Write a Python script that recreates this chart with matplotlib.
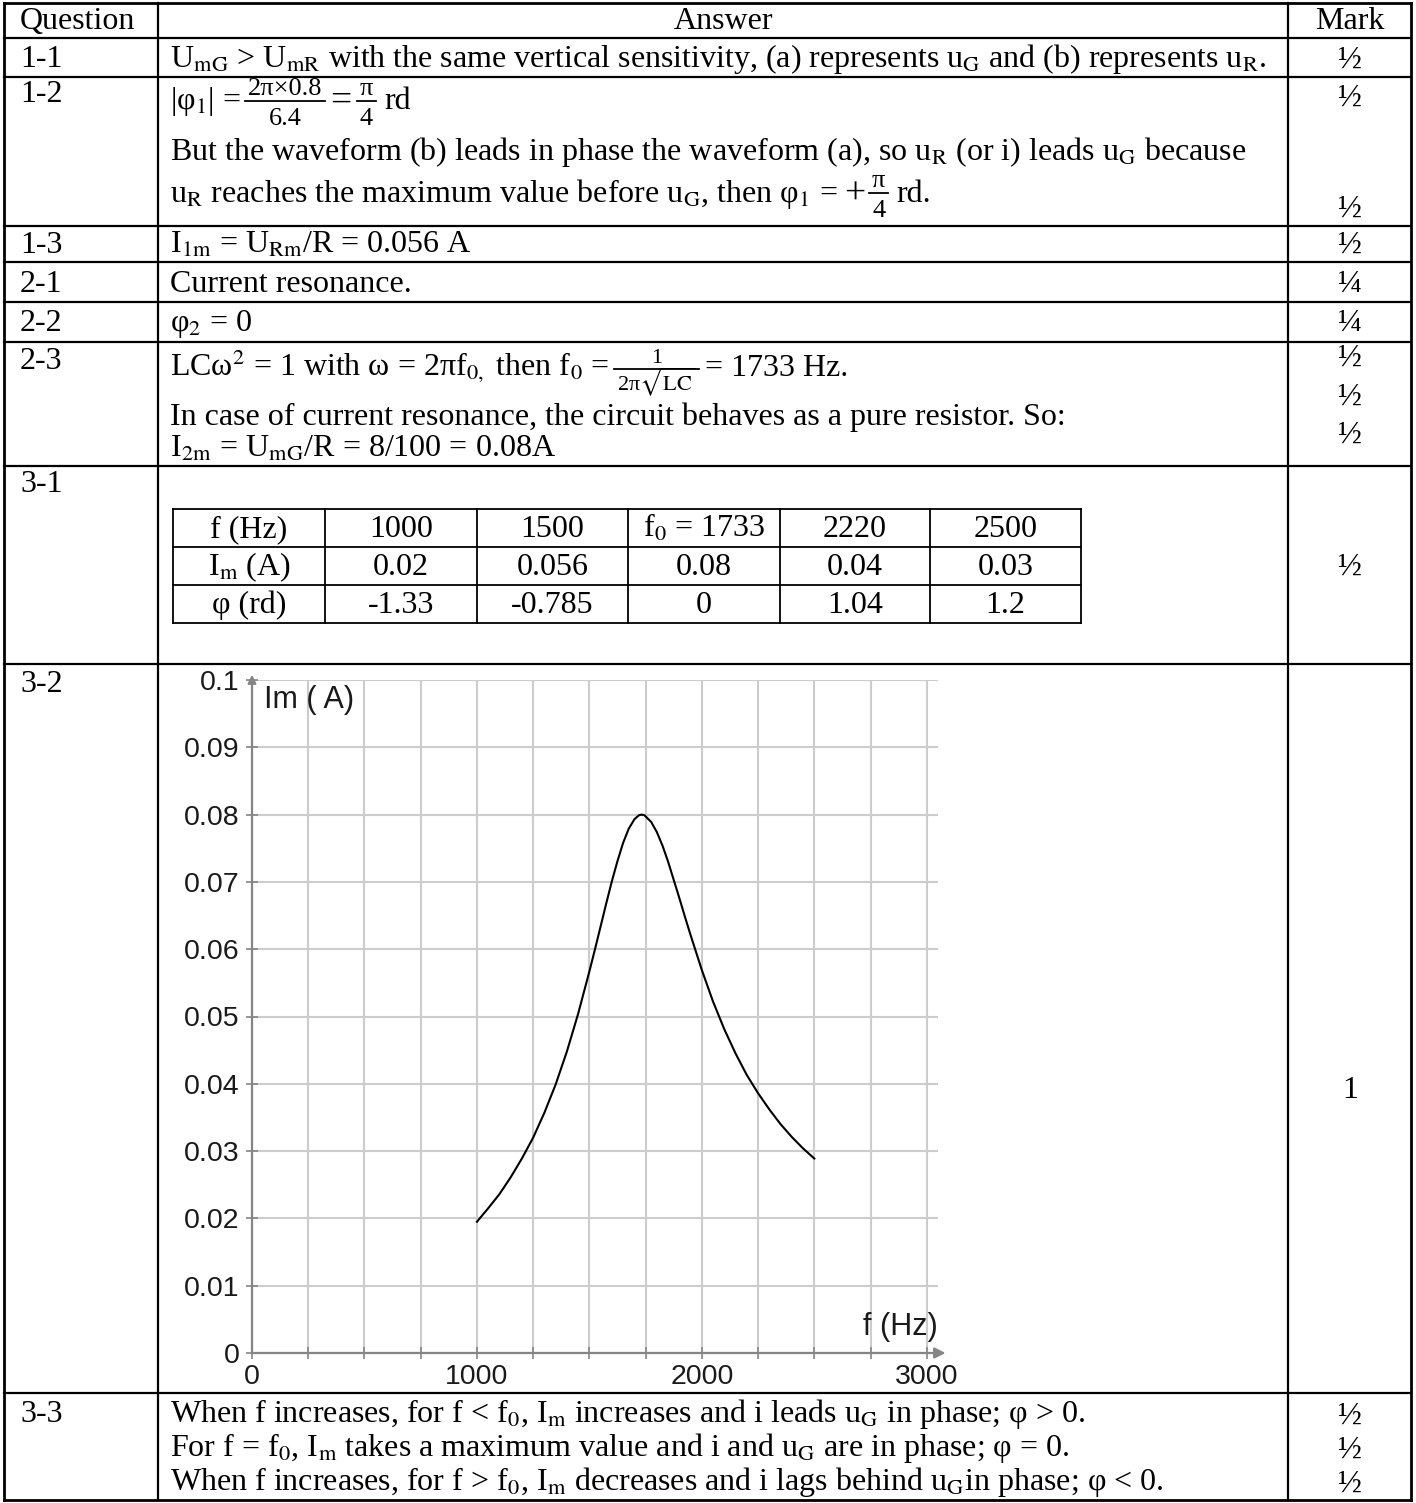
import matplotlib
matplotlib.use("Agg")
import matplotlib.pyplot as plt
from matplotlib.lines import Line2D

plt.rcParams['mathtext.fontset'] = 'stix'

# ---- data: table of 3-1 ----
freq_hz = [1000, 1500, 1733, 2220, 2500]
im_amp = [0.02, 0.056, 0.08, 0.04, 0.03]
phi_rd = [-1.33, -0.785, 0, 1.04, 1.2]
f_resonance = 1733

curve_f = [1000, 1050, 1100, 1150, 1200, 1250, 1300, 1350, 1400, 1450, 1500,
           1525, 1550, 1575, 1600, 1625, 1650, 1675, 1700, 1720, 1733, 1745,
           1775, 1800, 1825, 1850, 1875, 1900, 1925, 1950, 2000, 2050, 2100,
           2150, 2200, 2250, 2300, 2350, 2400, 2450, 2500]
curve_im = [0.0195, 0.0215, 0.0236, 0.0261, 0.0289, 0.0320, 0.0357, 0.0399,
            0.0448, 0.0504, 0.0567, 0.0600, 0.0634, 0.0668, 0.0701, 0.0731,
            0.0758, 0.0779, 0.0793, 0.0799, 0.0800, 0.0799, 0.0789, 0.0774,
            0.0754, 0.0730, 0.0703, 0.0676, 0.0648, 0.0621, 0.0569, 0.0522,
            0.0481, 0.0445, 0.0413, 0.0386, 0.0362, 0.0340, 0.0321, 0.0304,
            0.0289]

x_ticks = list(range(0, 3001, 250))
y_ticks = [0, 0.01, 0.02, 0.03, 0.04, 0.05, 0.06, 0.07, 0.08, 0.09, 0.1]

W, H = 1416, 1503
fig = plt.figure(figsize=(W / 100, H / 100), dpi=100)
fig.patch.set_facecolor('white')
renderer = fig.canvas.get_renderer()

SERIF = 'Liberation Serif'
SANS = 'Liberation Sans'
FS = 23
FS_FRAC = 19


def fx(x):
    return x / W


def fy(y):
    return 1 - y / H


def hline(x0, x1, y, lw=1.6):
    fig.add_artist(Line2D([fx(x0), fx(x1)], [fy(y), fy(y)], color='k', lw=lw,
                          transform=fig.transFigure, solid_capstyle='projecting'))


def vline(x, y0, y1, lw=1.6):
    fig.add_artist(Line2D([fx(x), fx(x)], [fy(y0), fy(y1)], color='k', lw=lw,
                          transform=fig.transFigure, solid_capstyle='projecting'))


def put(x, y, s, ha='left', size=FS, family=SERIF, va='baseline'):
    return fig.text(fx(x), fy(y), s, ha=ha, va=va, fontsize=size,
                    family=family, color='k')


def right_of(t, gap=0):
    return t.get_window_extent(renderer).x1 + gap


def frac(x, y_bar, num, den, size=FS_FRAC, pad=4, lw=1.3):
    # stacked fraction, bar at y_bar (px from top); returns right edge
    tn = put(0, 0, num, size=size, ha='center')
    td = put(0, 0, den, size=size, ha='center')
    w = max(tn.get_window_extent(renderer).width,
            td.get_window_extent(renderer).width) + 2 * pad
    xc = x + w / 2
    cap = 0.66 * size * 100 / 72
    tn.set_position((fx(xc), fy(y_bar - 6)))
    td.set_position((fx(xc), fy(y_bar + 7 + cap)))
    hline(x + 1, x + w - 1, y_bar, lw=lw)
    return x + w


# ---- outer table grid ----
XL, XQ, XM, XR = 4, 158, 1288, 1411
rows = [3, 38, 77, 226, 262, 302, 342, 466, 664, 1393, 1500]
for y in rows:
    hline(XL, XR, y, lw=2.0 if y in (3, 1500) else 1.6)
for x in (XL, XQ, XM, XR):
    vline(x, rows[0], rows[-1], lw=2.0 if x in (XL, XR) else 1.6)

QX = 20     # question column text
AX = 170    # answer column text
MX = 1350   # mark column centre

# header
put(QX, 29, "Question")
put((XQ + XM) / 2, 29, "Answer", ha='center')
put(MX, 29, "Mark", ha='center')

# 1-1
put(QX, 67, "1-1")
put(AX, 67, r"U$_\mathrm{mG}$ > U$_\mathrm{mR}$ with the same vertical sensitivity, "
            r"(a) represents u$_\mathrm{G}$ and (b) represents u$_\mathrm{R}$.")
put(MX, 68, "½", ha='center')

# 1-2
put(QX, 102, "1-2")
t = put(AX, 109, r"|φ$_1$| =")
x = frac(right_of(t, 3), 101, "2π×0.8", "6.4")
t = put(x + 4, 111, "=", size=27)
x = frac(right_of(t, 4), 101, "π", "4")
put(x + 7, 109, "rd")
put(AX, 160, "But the waveform (b) leads in phase the waveform (a), so u$_\\mathrm{R}$ "
             "(or i) leads u$_\\mathrm{G}$ because")
t = put(AX, 202, r"u$_\mathrm{R}$ reaches the maximum value before u$_\mathrm{G}$, "
                 r"then φ$_1$ =")
t = put(right_of(t, 6), 204, "+", size=27)
x = frac(right_of(t, 3), 193, "π", "4")
put(x + 7, 202, "rd.")
put(MX, 106, "½", ha='center')
put(MX, 217, "½", ha='center')

# 1-3
put(QX, 253, "1-3")
put(AX, 253, r"I$_\mathrm{1m}$ = U$_\mathrm{Rm}$/R = 0.056 A")
put(MX, 253, "½", ha='center')

# 2-1
put(QX, 292, "2-1")
put(AX, 292, "Current resonance.")
put(MX, 292, "¼", ha='center')

# 2-2
put(QX, 331, "2-2")
put(AX, 331, r"φ$_2$ = 0")
put(MX, 331, "¼", ha='center')

# 2-3
put(QX, 369, "2-3")
t = put(AX, 376, r"LCω$^2$ = 1 with ω = 2πf$_{0,}$ then f$_0$ =")
x = frac(right_of(t, 4), 369, "1", r"2π$\sqrt{\mathrm{LC}}$", size=16)
put(x + 5, 376, "= 1733 Hz.")
put(AX, 425, "In case of current resonance, the circuit behaves as a pure resistor. So:")
put(AX, 457, r"I$_\mathrm{2m}$ = U$_\mathrm{mG}$/R = 8/100 = 0.08A")
for yb in (366, 405, 443):
    put(MX, yb, "½", ha='center')

# 3-1 with inner table
put(QX, 492, "3-1")
put(MX, 575, "½", ha='center')
cx = [173, 325, 477, 628, 780, 930, 1081]
cy = [509, 547, 585, 623]
for y in cy:
    hline(cx[0], cx[-1], y, lw=1.3)
for x in cx:
    vline(x, cy[0], cy[-1], lw=1.3)
row_heads = ["f (Hz)", r"I$_\mathrm{m}$ (A)", "φ (rd)"]
f_labels = [(r"f$_0$ = %d" % f) if f == f_resonance else "%d" % f for f in freq_hz]
im_labels = ["%g" % v for v in im_amp]
phi_labels = ["%g" % v for v in phi_rd]
for r, cells in enumerate([f_labels, im_labels, phi_labels]):
    yb = (cy[r] + cy[r + 1]) / 2 + 9
    put((cx[0] + cx[1]) / 2, yb, row_heads[r], ha='center')
    for c, s in enumerate(cells):
        put((cx[c + 1] + cx[c + 2]) / 2, yb, s, ha='center')

# 3-2 graph
put(QX, 692, "3-2")
put(MX, 1098, "1", ha='center')

ax_l, ax_r, ax_t, ax_b = 252, 938, 680, 1353
ax = fig.add_axes([fx(ax_l), fy(ax_b), (ax_r - ax_l) / W, (ax_b - ax_t) / H])
ax.set_facecolor('none')
ax.set_xlim(0, 3050)
ax.set_ylim(0, 0.1)
ax.set_xticks(x_ticks)
ax.set_xticklabels(["%d" % t if t % 1000 == 0 else "" for t in x_ticks])
ax.set_yticks(y_ticks)
ax.set_yticklabels(["%g" % v for v in y_ticks])
ax.grid(True, color='#cccccc', lw=1.5)
ax.set_axisbelow(True)
for s in ('top', 'right'):
    ax.spines[s].set_visible(False)
for s in ('left', 'bottom'):
    ax.spines[s].set_color('#858585')
    ax.spines[s].set_linewidth(1.6)
ax.tick_params(direction='inout', length=8, width=1.2, color='#858585',
               labelsize=20.5, labelcolor='#1a1a1a')
ax.tick_params(axis='y', pad=5)
ax.tick_params(axis='x', pad=4)
for lab in ax.get_xticklabels() + ax.get_yticklabels():
    lab.set_family(SANS)
ax.plot(curve_f, curve_im, color='k', lw=1.5)
ax.annotate('', xy=(1.015, 0), xytext=(0.99, 0), xycoords='axes fraction',
            arrowprops=dict(arrowstyle='-|>', color='#858585', lw=1.6,
                            mutation_scale=16), annotation_clip=False)
ax.annotate('', xy=(0, 1.012), xytext=(0, 0.99), xycoords='axes fraction',
            arrowprops=dict(arrowstyle='-|>', color='#858585', lw=1.6,
                            mutation_scale=12), annotation_clip=False)
ax.text(55, 0.0993, "Im ( A)", ha='left', va='top', fontsize=22, family=SANS,
        color='#1a1a1a')
ax.text(3050, 0.0016, "f (Hz)", ha='right', va='bottom', fontsize=22,
        family=SANS, color='#1a1a1a')

# 3-3
put(QX, 1422, "3-3")
put(AX, 1422, r"When f increases, for f < f$_0$, I$_\mathrm{m}$ increases and i leads "
              r"u$_\mathrm{G}$ in phase; φ > 0.")
put(AX, 1456, r"For f = f$_0$, I$_\mathrm{m}$ takes a maximum value and i and "
              r"u$_\mathrm{G}$ are in phase; φ = 0.")
put(AX, 1490, r"When f increases, for f > f$_0$, I$_\mathrm{m}$ decreases and i lags behind "
              r"u$_\mathrm{G}$in phase; φ < 0.")
for yb in (1424, 1458, 1492):
    put(MX, yb, "½", ha='center')

fig.savefig("out.png", dpi=100, facecolor='white')
